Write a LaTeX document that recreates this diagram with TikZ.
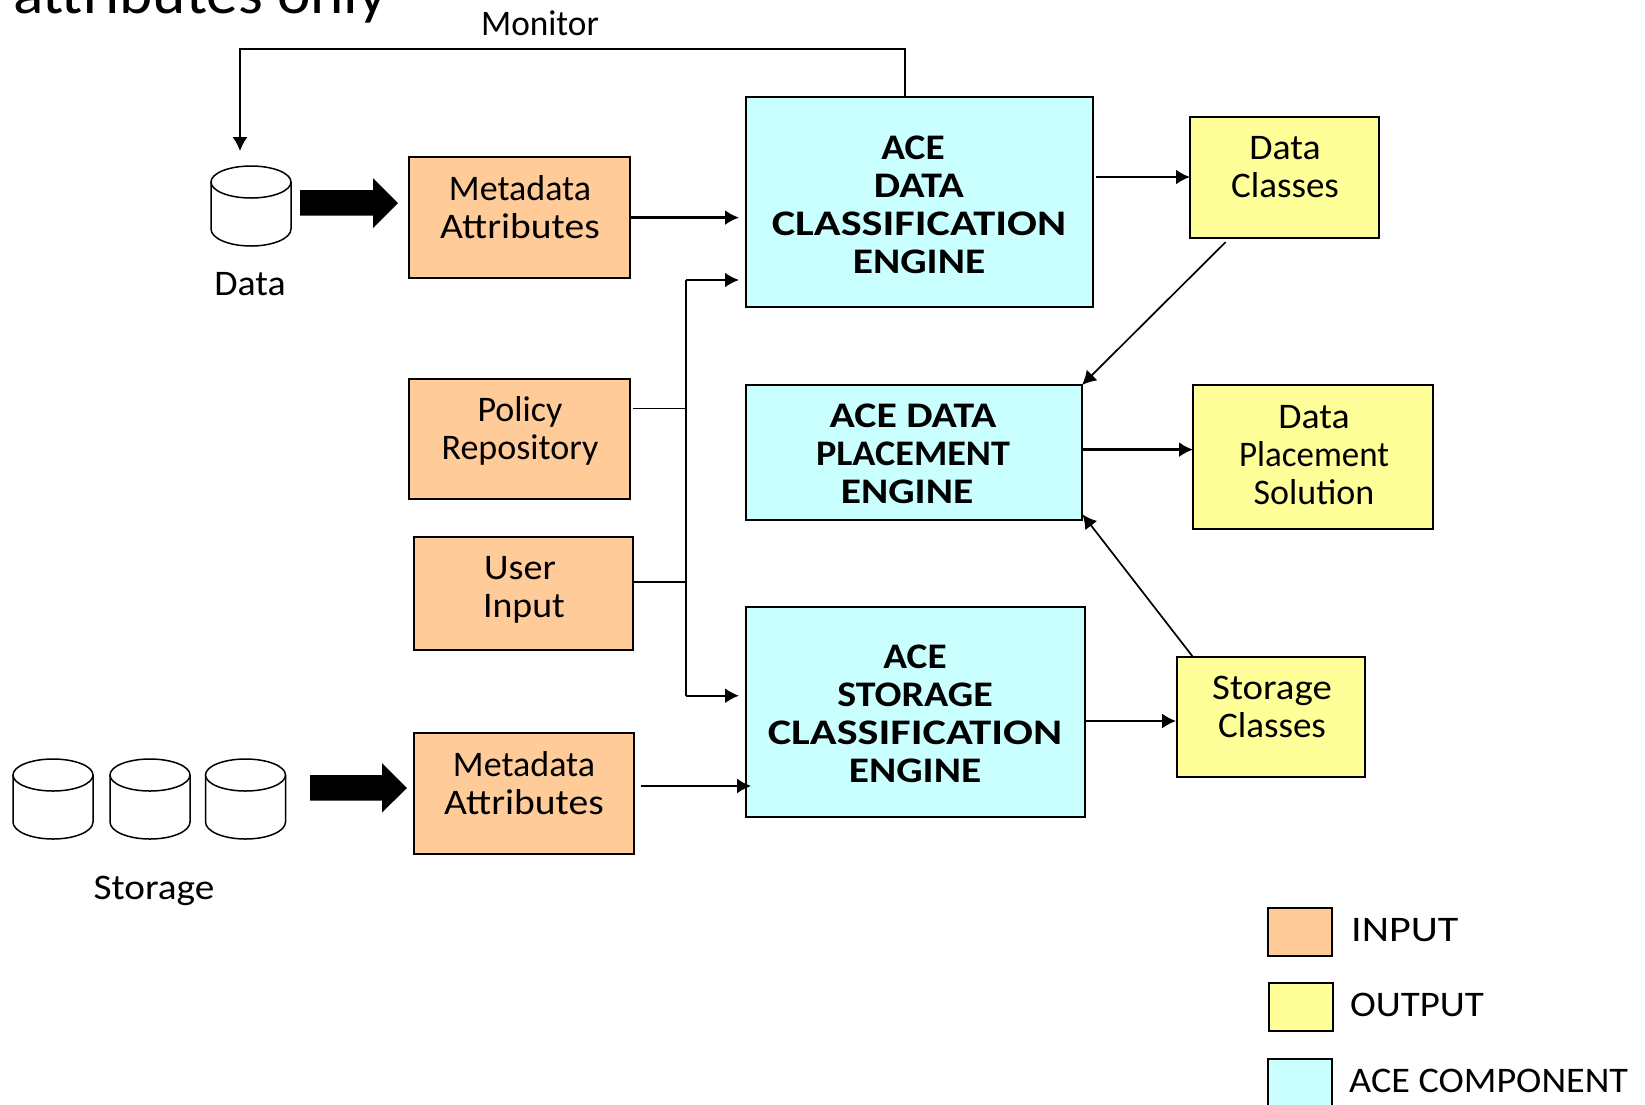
\documentclass[tikz,border=0pt]{standalone}
\usepackage{fontspec}
\usepackage{graphicx}
\setmainfont{Carlito}
\usetikzlibrary{arrows.meta}
\definecolor{inputc}{HTML}{FFCC99}
\definecolor{outputc}{HTML}{FFFF99}
\definecolor{acec}{HTML}{C9FFFF}
\newcommand{\sx}[2]{\scalebox{#1}[1]{#2}}
\tikzset{
  box/.style={draw=black,line width=1.6pt,inner sep=0pt,outer sep=0pt,anchor=north west},
  inbox/.style={box,fill=inputc},
  outbox/.style={box,fill=outputc},
  acebox/.style={box,fill=acec},
  lbl/.style={align=center,inner sep=0pt,font=\fontsize{36}{38}\selectfont},
  acelbl/.style={align=center,inner sep=0pt,font=\fontsize{36}{38}\selectfont\bfseries},
  conn/.style={line width=1.7pt,-{Latex[length=14pt,width=15pt]}},
  thickconn/.style={line width=2.3pt,-{Latex[length=14pt,width=15pt]}},
  plain/.style={line width=1.5pt},
  blockarrow/.style={fill=black,draw=none},
  cyl/.style={draw=black,line width=1.5pt,fill=white}
}
\newcommand{\cylshape}[4]{% left, top, right, bottom
  \draw[cyl] (#1,{#2+16}) -- (#1,{#4-17}) arc[start angle=180,end angle=0,x radius={(#3-#1)/2},y radius=17] -- (#3,{#2+16});
  \draw[cyl] ({(#1+#3)/2},{#2+16}) ellipse[x radius={(#3-#1)/2},y radius=16];
}
\begin{document}
\begin{tikzpicture}[x=1pt,y=-1pt]
\useasboundingbox (0,0) rectangle (1645,1104);
\clip (0,0) rectangle (1645,1104);
\node[anchor=base west,inner sep=0pt,font=\fontsize{60}{64}\selectfont] (cut) at (13,13) {\sx{1.055}{attributes only}};
% boxes
\node[inbox,minimum width=221pt,minimum height=121pt] (meta1) at (409,157) {};
\node[inbox,minimum width=221pt,minimum height=120pt] (policy) at (409,379) {};
\node[inbox,minimum width=219pt,minimum height=113pt] (user) at (414,537) {};
\node[inbox,minimum width=220pt,minimum height=121pt] (meta2) at (414,733) {};
\node[acebox,minimum width=347pt,minimum height=210pt] (eng1) at (746,97) {};
\node[acebox,minimum width=336pt,minimum height=135pt] (eng2) at (746,385) {};
\node[acebox,minimum width=339pt,minimum height=210pt] (eng3) at (746,607) {};
\node[outbox,minimum width=189pt,minimum height=121pt] (dc) at (1190,117) {};
\node[outbox,minimum width=240pt,minimum height=144pt] (dps) at (1193,385) {};
\node[outbox,minimum width=188pt,minimum height=120pt] (sc) at (1177,657) {};
\node[inbox,minimum width=64pt,minimum height=48pt] (leg1) at (1268,908) {};
\node[outbox,minimum width=64pt,minimum height=48pt] (leg2) at (1269,983) {};
\node[acebox,minimum width=64pt,minimum height=60pt] (leg3) at (1268,1059) {};
% texts
\node[lbl] (t1) at (520,207) {Metadata\\\sx{1.1}{Attributes}};
\node[lbl] (t2) at (520,431) {Policy\\Repository};
\node[lbl] (t3) at (524,590) {\sx{1.06}{User}\hspace*{8pt}\null\\\sx{1.05}{Input}};
\node[lbl] (t4) at (524,783) {Metadata\\\sx{1.1}{Attributes}};
\node[acelbl] (t5) at (919,204.5) {\sx{1.09}{ACE}\hspace*{12pt}\null\\\sx{1.16}{DATA}\\\sx{1.23}{CLASSIFICATION}\\\sx{1.15}{ENGINE}};
\node[acelbl] (t6) at (913,454) {\sx{1.16}{ACE DATA}\\\sx{1.06}{PLACEMENT}\\\sx{1.15}{ENGINE}\hspace*{12pt}\null};
\node[acelbl] (t7) at (915,714) {\sx{1.09}{ACE}\\\sx{1.11}{STORAGE}\\\sx{1.23}{CLASSIFICATION}\\\sx{1.15}{ENGINE}};
\node[lbl] (t8) at (1285,167.5) {\sx{1.05}{Data}\\\sx{1.03}{Classes}};
\node[lbl] (t9) at (1314,455) {\sx{1.05}{Data}\\\sx{0.97}{Placement}\\Solution};
\node[lbl] (t10) at (1272,706.5) {\sx{1.08}{Storage}\\\sx{1.03}{Classes}};
\node[lbl] (dlab) at (250,284) {\sx{1.05}{Data}};
\node[lbl] (mlab) at (540,23) {\sx{0.98}{Monitor}};
\node[lbl] (slab) at (154,891) {\sx{1.09}{Storage}};
\node[lbl,anchor=west] (l1) at (1351,930) {\sx{1.17}{INPUT}};
\node[lbl,anchor=west] (l2) at (1350,1005) {\sx{1.08}{OUTPUT}};
\node[lbl,anchor=west] (l3) at (1349,1081) {\sx{1.06}{ACE COMPONENT}};
% cylinders
\cylshape{211}{166}{291}{246}
\cylshape{13}{759}{93}{839}
\cylshape{110}{759}{190}{839}
\cylshape{205.5}{759}{285.5}{839}
\coordinate (cyl0top) at (240,151);
% block arrows
\fill[blockarrow] (300,190) -- (373,190) -- (373,178) -- (398,203) -- (373,228) -- (373,215.5) -- (300,215.5) -- cycle;
\fill[blockarrow] (310,775) -- (382,775) -- (382,763) -- (407,788) -- (382,812.5) -- (382,800.5) -- (310,800.5) -- cycle;
% connectors
\coordinate (busTop) at (686,280);
\coordinate (busBot) at (686,695.7);
\coordinate (e1a) at (739,280);
\coordinate (e1b) at (739,217.6);
\coordinate (e3a) at (739,695.7);
\coordinate (e3b) at (751,786);
\coordinate (m2s) at (641,786);
\coordinate (monR) at (905,49);
\coordinate (monL) at (240,49);
\draw[conn] (eng1.north -| monR) -- (monR) -- (monL) -- (cyl0top);
\draw[thickconn] (meta1.east |- e1b) -- (e1b);
\draw[conn] (busBot) -- (e3a);
\draw[thickconn] (busTop) -- (e1a);
\draw[plain] (busTop) -- (busBot);
\draw[plain] (633,408.5) coordinate (ps) -- (ps -| busTop);
\draw[plain] (user.east |- 0,582) coordinate (us) -- (us -| busTop);
\draw[conn] (m2s) -- (e3b);
\draw[thickconn] (1095.7,177) coordinate (e1o) -- (dc.west |- e1o);
\draw[conn] (1225.7,242) coordinate (dco) -- (eng2.north east);
\draw[thickconn] (eng2.east |- 0,449.6) coordinate (e2o) -- (dps.west |- e2o);
\draw[conn] (1193,657) coordinate (sco) -- (1082.5,514.4) coordinate (e2i);
\draw[conn] (eng3.east |- 0,721) coordinate (e3o) -- (1176,721);
\end{tikzpicture}
\end{document}
